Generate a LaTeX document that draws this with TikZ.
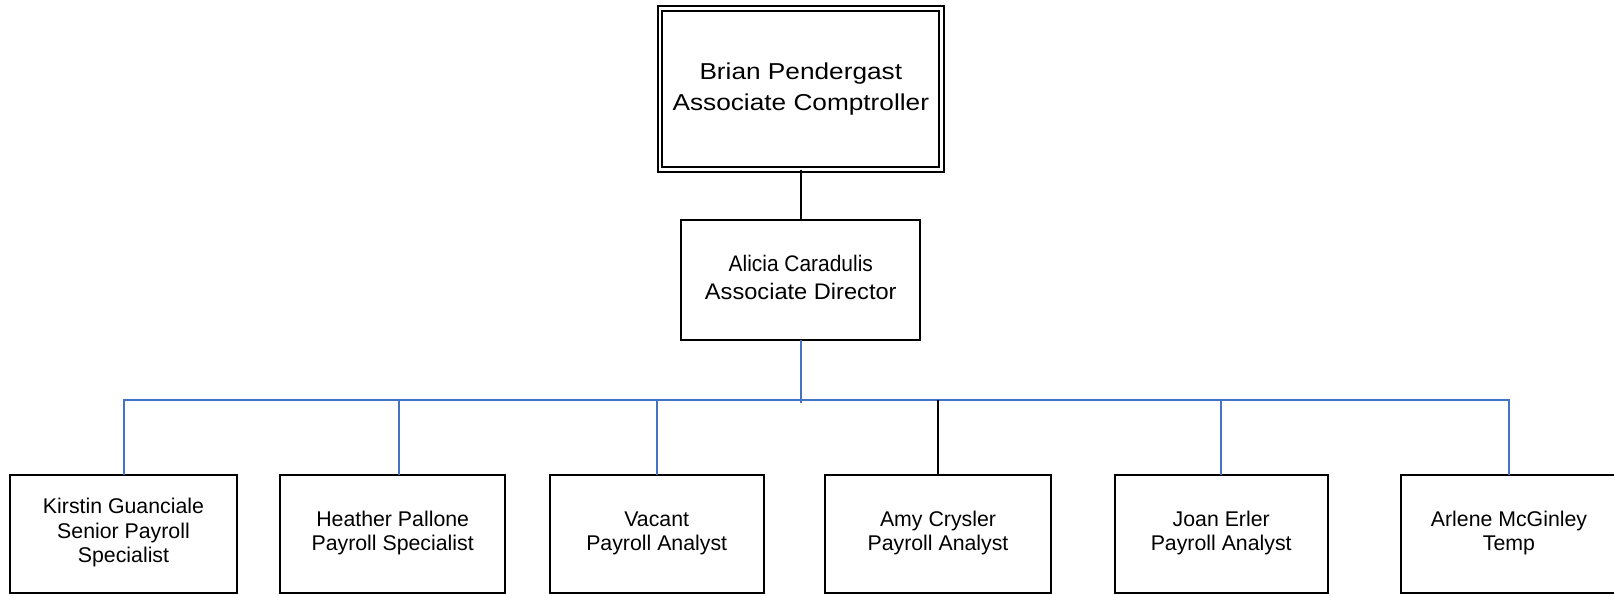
\documentclass[tikz,border=0pt]{standalone}
\usepackage{fontspec}
\setmainfont{Liberation Sans}
\definecolor{linkblue}{HTML}{4472C4}
\newcommand{\boxlines}[2]{\raisebox{#1}{\begin{tabular}{@{}c@{}}#2\end{tabular}}}
\begin{document}
\begin{tikzpicture}[x=1pt,y=-1pt,
  box/.style={draw=black, line width=2pt, fill=white, inner sep=0pt, outer sep=0pt,
    minimum height=118pt},
  topbox/.style={draw=black, line width=2pt, double=white, double distance=2.7pt,
    inner sep=0pt, outer sep=0pt,
    font={\fontsize{23}{30.3}\selectfont}},
  dirbox/.style={box, font={\fontsize{22.5}{27.3}\selectfont}},
  staffbox/.style={box, font={\fontsize{21.3}{24.5}\selectfont}},
  blueline/.style={draw=linkblue, line width=2pt},
  blackline/.style={draw=black, line width=2pt}]
\useasboundingbox (0,0) rectangle (1614,595);
\fill[white] (0,0) rectangle (1614,595);

\node[topbox, minimum width=281.5pt, minimum height=161.1pt] (bp) at (800.8,89)
  {\scalebox{1.14}[1]{\boxlines{-1.8pt}{Brian Pendergast\\Associate Comptroller}}};
\node[dirbox, minimum width=238.8pt, minimum height=119.5pt] (ac) at (800.8,280)
  {\boxlines{-4pt}{\scalebox{0.93}[1]{Alicia Caradulis}\\\scalebox{1.05}[1]{Associate Director}}};

\node[staffbox, minimum width=226.5pt] (kg) at (123.5,533.5) {\boxlines{-2.5pt}{Kirstin Guanciale\\Senior Payroll\\Specialist}};
\node[staffbox, minimum width=225.4pt] (hp) at (392.7,533.5) {\boxlines{-3.5pt}{Heather Pallone\\Payroll Specialist}};
\node[staffbox, minimum width=214.2pt] (va) at (656.7,533.5) {\boxlines{-3.5pt}{Vacant\\Payroll Analyst}};
\node[staffbox, minimum width=225.5pt] (acr) at (938,533.5) {\boxlines{-3.5pt}{Amy Crysler\\Payroll Analyst}};
\node[staffbox, minimum width=213.1pt] (je) at (1221.2,533.5) {\boxlines{-3.5pt}{Joan Erler\\Payroll Analyst}};
\node[staffbox, minimum width=216pt] (am) at (1509,533.5) {\boxlines{-3.5pt}{Arlene McGinley\\Temp}};

\coordinate (busL) at (123.5,400);
\coordinate (busR) at (1509,400);
\coordinate (busC) at (800.8,402.7);

\draw[blackline] (bp.south) -- (ac.north);
\draw[blueline] (ac.south) -- (busC);
\draw[blueline] (kg.north) -- (busL) -- (busR) -- (am.north);
\draw[blueline] ([xshift=6.7pt]hp.north) -- ([xshift=6.7pt]hp.north |- busL);
\draw[blueline] (va.north) -- (va.north |- busL);
\draw[blackline, line width=1.6pt] (acr.north) -- (acr.north |- busL);
\draw[blueline] (je.north) -- (je.north |- busL);
\end{tikzpicture}
\end{document}
